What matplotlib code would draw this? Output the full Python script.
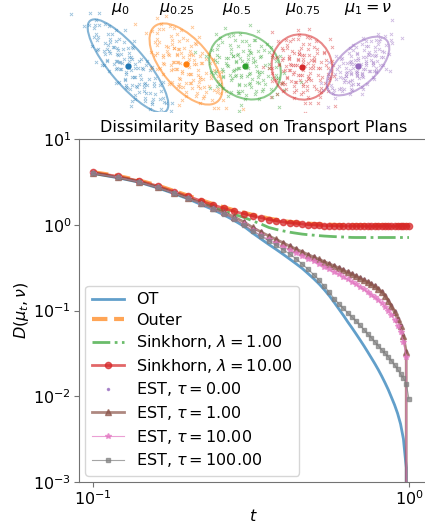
import numpy as np
import matplotlib
matplotlib.use('Agg')
import matplotlib.pyplot as plt
from matplotlib.patches import Ellipse
from matplotlib.transforms import Affine2D

# ---------------- data ----------------
t = np.linspace(0.1, 1.0, 46)

ot = [3.96, 3.53, 3.13, 2.69, 2.32, 2.00, 1.72, 1.50, 1.30, 1.12, 0.96,
      0.80, 0.683, 0.589, 0.515, 0.451, 0.396, 0.349, 0.308, 0.268, 0.234,
      0.203, 0.174, 0.148, 0.124, 0.104, 0.0877, 0.0736, 0.0627, 0.0533, 0.0454,
      0.0387, 0.0329, 0.0280, 0.0239, 0.0203, 0.0171, 0.0143, 0.0119, 0.00971, 0.00794,
      0.00632, 0.00477, 0.00318, 0.00147, 0.0]
outer = [4.10, 3.70, 3.28, 2.87, 2.48, 2.18, 1.93, 1.74, 1.59, 1.47, 1.38,
         1.30, 1.24, 1.18, 1.14, 1.10, 1.08, 1.06, 1.04, 1.03, 1.02,
         1.01, 1.00, 1.00, 0.995, 0.99, 0.99, 0.99, 0.99, 0.99, 0.99,
         0.99, 0.99, 0.99, 0.99, 0.99, 0.99, 0.99, 0.99, 0.99, 0.99,
         0.99, 0.99, 0.99, 0.99, 0.99]
sink1 = [4.02, 3.61, 3.20, 2.76, 2.38, 2.05, 1.80, 1.59, 1.45, 1.32, 1.22,
         1.11, 1.02, 0.93, 0.882, 0.847, 0.818, 0.796, 0.777, 0.765, 0.755,
         0.746, 0.738, 0.732, 0.727, 0.723, 0.719, 0.715, 0.711, 0.71, 0.71,
         0.71, 0.71, 0.71, 0.71, 0.71, 0.71, 0.71, 0.71, 0.71, 0.71,
         0.71, 0.71, 0.71, 0.71, 0.71]
sink10 = [4.07, 3.66, 3.24, 2.83, 2.44, 2.14, 1.89, 1.70, 1.55, 1.43, 1.34,
          1.27, 1.21, 1.15, 1.11, 1.08, 1.05, 1.04, 1.02, 1.00, 0.995,
          0.987, 0.979, 0.974, 0.968, 0.966, 0.965, 0.965, 0.964, 0.964, 0.964,
          0.964, 0.964, 0.964, 0.964, 0.964, 0.964, 0.964, 0.964, 0.964, 0.964,
          0.964, 0.964, 0.964, 0.964, 0.964]
est0 = [4.00, 3.58, 3.17, 2.76, 2.38, 2.07, 1.81, 1.59, 1.41, 1.25, 1.10,
        0.945, 0.840, 0.755, 0.688, 0.627, 0.574, 0.529, 0.492, 0.458, 0.428,
        0.403, 0.379, 0.357, 0.338, 0.319, 0.302, 0.285, 0.271, 0.257, 0.243,
        0.231, 0.219, 0.208, 0.196, 0.183, 0.169, 0.152, 0.133, 0.115, 0.0975,
        0.0825, 0.0680, 0.0520, 0.0340, 0.0]
est1 = [3.98, 3.56, 3.15, 2.74, 2.36, 2.05, 1.79, 1.57, 1.39, 1.23, 1.08,
        0.930, 0.824, 0.740, 0.674, 0.614, 0.562, 0.518, 0.482, 0.448, 0.419,
        0.394, 0.371, 0.349, 0.331, 0.312, 0.295, 0.279, 0.265, 0.251, 0.238,
        0.226, 0.214, 0.203, 0.191, 0.179, 0.165, 0.148, 0.130, 0.112, 0.0953,
        0.0806, 0.0663, 0.0506, 0.0329, 0.0]
est10 = [3.98, 3.56, 3.15, 2.72, 2.35, 2.03, 1.75, 1.53, 1.34, 1.17, 1.01,
         0.858, 0.750, 0.674, 0.609, 0.554, 0.508, 0.469, 0.433, 0.402, 0.373,
         0.345, 0.322, 0.301, 0.282, 0.264, 0.247, 0.230, 0.216, 0.202, 0.189,
         0.176, 0.165, 0.153, 0.142, 0.131, 0.121, 0.110, 0.0991, 0.0877, 0.0767,
         0.0662, 0.0556, 0.0431, 0.0289, 0.0]
est100 = [3.98, 3.56, 3.15, 2.72, 2.35, 2.03, 1.75, 1.53, 1.34, 1.17, 0.995,
          0.847, 0.740, 0.647, 0.574, 0.511, 0.454, 0.399, 0.346, 0.301, 0.261,
          0.225, 0.191, 0.163, 0.137, 0.119, 0.106, 0.0938, 0.0838, 0.0752, 0.0670,
          0.0598, 0.0533, 0.0480, 0.0431, 0.0387, 0.0347, 0.0316, 0.0288, 0.0259, 0.0232,
          0.0206, 0.0182, 0.0162, 0.0140, 0.0093]

labels = ['OT', 'Outer', r'Sinkhorn, $\lambda = 1.00$', r'Sinkhorn, $\lambda = 10.00$',
          r'EST, $\tau = 0.00$', r'EST, $\tau = 1.00$', r'EST, $\tau = 10.00$',
          r'EST, $\tau = 100.00$']

# measures along the interpolation (top strip)
mu_titles = [r'$\mu_0$', r'$\mu_{0.25}$', r'$\mu_{0.5}$', r'$\mu_{0.75}$', r'$\mu_1 = \nu$']
# standardised sample shared by all clouds (u, v)
base_u = [-0.3, 0.8, 1.2, -1.1, 0.1, -0.6, 1.7, -1.5, 0.4, -0.2, 0.9, -0.9, 1.4, -1.8,
          0.2, 0.6, -0.5, 1.0, -1.3, 2.1, -0.1, 0.5, -0.8, 1.6, -2.2, 0.0, 0.7, -0.4,
          1.9, -1.0, 0.3, -0.7, 1.1, -1.6, 0.8, -0.2, 2.4, -0.6, 0.1, -1.2, 1.3, -0.3,
          0.6, -1.9, 0.4, 1.5, -0.9, 0.2, -2.6, 2.7, -0.5, 1.0, 0.0, -1.4, 1.8, -0.1,
          0.9, -2.0, 0.5, -0.8, 1.2, -1.1, 2.2, -0.4, 0.3, 1.6, -1.7, 0.7, -0.2, 2.9]
base_v = [0.5, -0.2, 0.9, -0.4, -1.3, 1.4, -0.5, 0.8, 0.3, -0.7, 1.5, -1.2, 0.2, -0.1,
          1.9, -1.6, 0.1, -1.0, 1.6, 0.6, 0.9, -0.4, 0.6, 1.2, -0.6, -0.2, 0.8, -1.7,
          -1.1, 0.2, 1.2, -0.3, 0.4, -1.0, -0.8, 0.3, -0.2, 2.1, 0.6, -1.5, -0.3, -1.0,
          1.0, 0.4, -1.1, 0.7, 1.0, -0.5, 1.1, 0.9, -2.3, 2.2, 0.0, 0.5, -0.6, -0.9,
          0.1, -1.3, 1.7, -0.1, -1.4, 1.3, 0.3, 0.7, -2.0, -0.7, -0.4, 0.4, 1.1, -1.2]

FS = 11.5

# ---------------- figure ----------------
fig = plt.figure(figsize=(4.25, 5.24), dpi=100)

# top strip with the clouds, drawn in pixel units
axt = fig.add_axes([0, 1 - 112 / 524, 1, 112 / 524])
axt.set_xlim(0, 425)
axt.set_ylim(112, 0)
axt.axis('off')
centers = [(128, 66), (186, 64), (245, 66), (302, 67), (358, 66)]
widths = [118, 98, 76, 66, 77]
heights = [36, 48, 62, 60, 38]
angles = [50, 50, 35, 70, -42]
title_x = [120, 177, 237, 303, 368]
for k in range(5):
    c = 'C%d' % k
    (cx, cy), w, h, a = centers[k], widths[k], heights[k], angles[k]
    tr = Affine2D().scale(w / 4, h / 4).rotate_deg(a).translate(cx, cy) + axt.transData
    # same sample, also shown turned a quarter in its own frame, for density
    tr2 = Affine2D().rotate_deg(90).scale(w / 4.4, h / 4.4).rotate_deg(a).translate(cx, cy) + axt.transData
    axt.scatter(base_u, base_v, marker='x', s=5, lw=0.6, color=c, alpha=0.45, transform=tr)
    axt.scatter(base_u, base_v, marker='x', s=5, lw=0.6, color=c, alpha=0.45, transform=tr2)
    axt.add_patch(Ellipse((cx, cy), w, h, angle=a, fill=False, ec=c, lw=1.5, alpha=0.55))
    axt.plot(cx, cy, 'o', color=c, ms=3.5)
    axt.text(title_x[k], 9, mu_titles[k], ha='center', va='center', fontsize=FS)

# main plot
ax = fig.add_axes([79 / 425, 42 / 524, 348.5 / 425, 343 / 524])
ax.plot(t, ot, color='C0', lw=2, alpha=0.7, label=labels[0])
ax.plot(t, outer, color='C1', ls='--', lw=3, alpha=0.7, label=labels[1])
ax.plot(t, sink1, color='C2', ls='-.', lw=2, alpha=0.7, label=labels[2])
ax.plot(t, sink10, color='C3', marker='o', ms=4.5, lw=2, alpha=0.7, label=labels[3])
ax.plot(t, est0, color='C4', marker='.', ms=3, ls='none', alpha=0.7, label=labels[4])
ax.plot(t, est1, color='C5', marker='^', ms=4.5, lw=2, alpha=0.7, label=labels[5])
ax.plot(t, est10, color='C6', marker='*', ms=4, lw=0.8, alpha=0.7, label=labels[6])
ax.plot(t, est100, color='C7', marker='s', ms=3.5, lw=0.8, alpha=0.7, label=labels[7])
ax.set_xscale('log')
ax.set_yscale('log')
ax.set_xlim(10 ** -1.0443, 10 ** 0.0585)
ax.set_ylim(1e-3, 1e1)
ax.minorticks_off()
for s in ax.spines.values():
    s.set_color('0.45')
ax.tick_params(labelsize=FS, color='0.45', pad=2)
ax.set_title('Dissimilarity Based on Transport Plans', fontsize=FS, pad=5)
ax.set_xlabel('$t$', fontsize=FS, labelpad=0)
ax.set_ylabel(r'$D(\mu_t, \nu)$', fontsize=FS, labelpad=2)
ax.legend(loc='lower left', fontsize=FS, labelspacing=0.35, borderaxespad=0.4)

fig.savefig('out.png', dpi=100)
